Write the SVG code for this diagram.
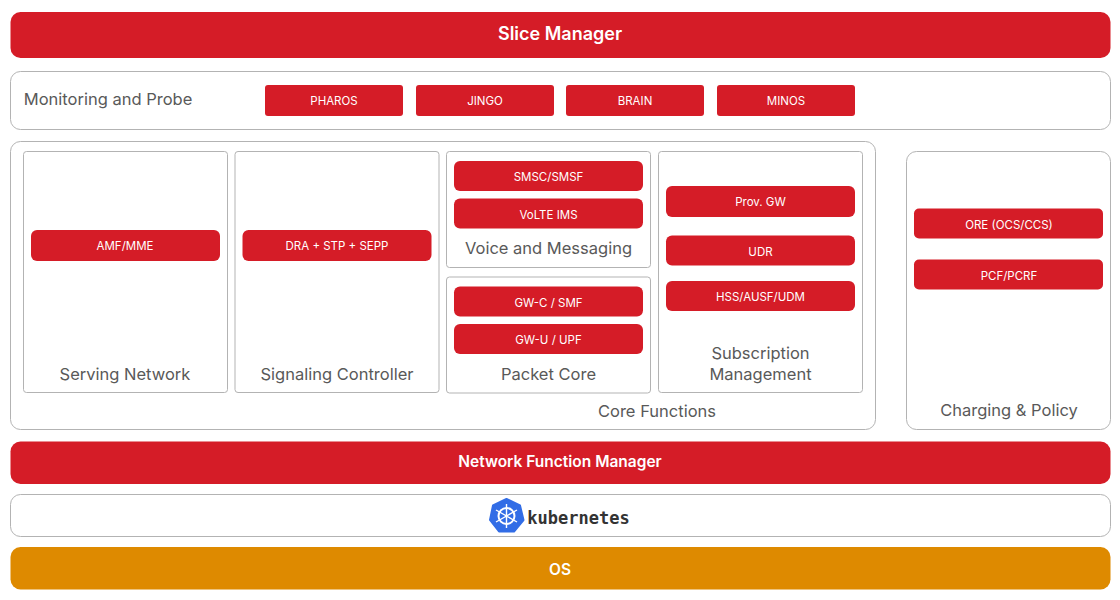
<svg xmlns="http://www.w3.org/2000/svg" width="1120" height="600" viewBox="0 0 1120 600">
<style>
text{font-family:"Inter","Roboto","Liberation Sans",sans-serif;text-anchor:middle}
.bar{fill:#d51c27}
.os{fill:#de8a00}
.box{fill:#fff;stroke:#b3b3b3;stroke-width:1}
.chip{fill:#d51c27}
.cl{font-size:11.5px;fill:#fff}
.lb{font-size:16.5px;fill:#595959}
.bt{font-size:18px;font-weight:600;fill:#fff}
.bm{font-size:15.5px;font-weight:600;fill:#fff}
</style>
<rect width="1120" height="600" fill="#fff"/>
<g id="slice-manager"><rect class="bar" x="10.500" y="12" width="1100" height="46" rx="10"/><text class="bt" x="560" y="39.500">Slice Manager</text></g>
<g id="monitoring"><rect class="box" x="10.500" y="71.500" width="1100" height="58" rx="10"/><text class="lb" x="108" y="105">Monitoring and Probe</text></g>
<g id="pharos"><rect class="chip" x="265" y="85" width="138" height="31" rx="3"/><text class="cl" x="334" y="105">PHAROS</text></g>
<g id="jingo"><rect class="chip" x="416" y="85" width="138" height="31" rx="3"/><text class="cl" x="485" y="105">JINGO</text></g>
<g id="brain"><rect class="chip" x="566" y="85" width="138" height="31" rx="3"/><text class="cl" x="635" y="105">BRAIN</text></g>
<g id="minos"><rect class="chip" x="717" y="85" width="138" height="31" rx="3"/><text class="cl" x="786" y="105">MINOS</text></g>
<g id="core-functions"><rect class="box" x="10.500" y="141.500" width="865" height="288" rx="10"/><text class="lb" x="657" y="417">Core Functions</text></g>
<g id="serving-network"><rect class="box" x="23.500" y="151.500" width="204" height="241" rx="3"/><text class="lb" x="125" y="380">Serving Network</text></g>
<g id="amf"><rect class="chip" x="31" y="230" width="189" height="31" rx="6"/><text class="cl" x="125" y="250">AMF/MME</text></g>
<g id="signaling-controller"><rect class="box" x="235" y="151.500" width="204" height="241" rx="3"/><text class="lb" x="337" y="380">Signaling Controller</text></g>
<g id="dra"><rect class="chip" x="242.500" y="230" width="189" height="31" rx="6"/><text class="cl" x="337" y="250">DRA + STP + SEPP</text></g>
<g id="voice-messaging"><rect class="box" x="446.500" y="151.500" width="204" height="116" rx="3"/><text class="lb" x="548.500" y="254">Voice and Messaging</text></g>
<g id="smsc"><rect class="chip" x="454" y="161" width="189" height="30" rx="6"/><text class="cl" x="548.500" y="181">SMSC/SMSF</text></g>
<g id="volte"><rect class="chip" x="454" y="198.500" width="189" height="30" rx="6"/><text class="cl" x="548.500" y="219">VoLTE IMS</text></g>
<g id="packet-core"><rect class="box" x="446.500" y="277" width="204" height="116" rx="3"/><text class="lb" x="548.500" y="380">Packet Core</text></g>
<g id="gwc"><rect class="chip" x="454" y="286.500" width="189" height="30" rx="6"/><text class="cl" x="548.500" y="307">GW-C / SMF</text></g>
<g id="gwu"><rect class="chip" x="454" y="324" width="189" height="30" rx="6"/><text class="cl" x="548.500" y="344">GW-U / UPF</text></g>
<g id="subscription"><rect class="box" x="658.500" y="151.500" width="204" height="241" rx="3"/><text class="lb" x="760.500" y="359">Subscription</text><text class="lb" x="760.500" y="380">Management</text></g>
<g id="provgw"><rect class="chip" x="666" y="186" width="189" height="31" rx="6"/><text class="cl" x="760.500" y="206">Prov. GW</text></g>
<g id="udr"><rect class="chip" x="666" y="235.500" width="189" height="30" rx="6"/><text class="cl" x="760.500" y="256">UDR</text></g>
<g id="hss"><rect class="chip" x="666" y="281" width="189" height="30" rx="6"/><text class="cl" x="760.500" y="301">HSS/AUSF/UDM</text></g>
<g id="charging"><rect class="box" x="906.500" y="151.500" width="204" height="278" rx="10"/><text class="lb" x="1009" y="416">Charging &amp; Policy</text></g>
<g id="ore"><rect class="chip" x="914" y="208.500" width="189" height="30" rx="5"/><text class="cl" x="1009" y="229">ORE (OCS/CCS)</text></g>
<g id="pcf"><rect class="chip" x="914" y="259.500" width="189" height="30" rx="5"/><text class="cl" x="1009" y="280">PCF/PCRF</text></g>
<g id="nfm"><rect class="bar" x="10.500" y="441.500" width="1100" height="42.500" rx="10"/><text class="bm" x="560" y="467">Network Function Manager</text></g>
<g id="kubernetes"><rect class="box" x="10.500" y="494.500" width="1100" height="42" rx="10"/>
<polygon points="506.500,499 520,505.500 523.500,520 514,531.500 499,531.500 490,520 493,505.500" fill="#326de6" stroke="#326de6" stroke-width="2" stroke-linejoin="round"/>
<g fill="none" stroke="#fff"><circle cx="506.500" cy="516" r="8" stroke-width="2"/><path d="M506.500 504V528M496 510L517 522M517 510L496 522" stroke-width="1.400"/></g>
<text x="578.500" y="523.500" style="font-family:'DejaVu Sans Mono',monospace;font-weight:700;font-size:17px;fill:#333">kubernetes</text></g>
<g id="os"><rect class="os" x="10.500" y="547" width="1100" height="42.500" rx="10"/><text class="bm" x="560" y="574.500">OS</text></g>
</svg>
